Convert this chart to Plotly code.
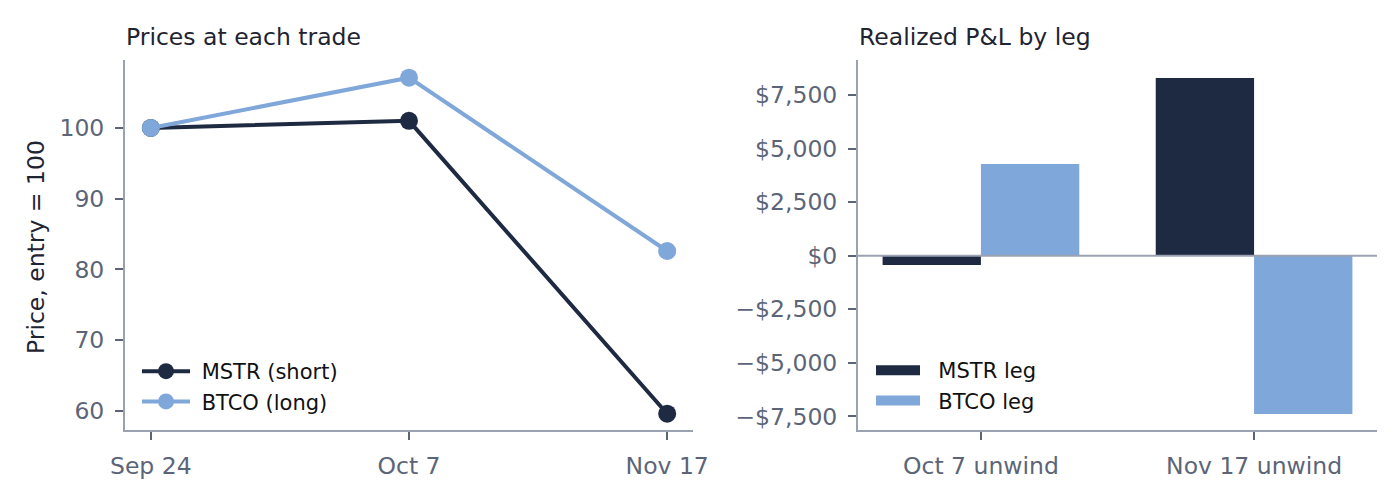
import plotly.graph_objects as go

# 数据
dates = ["Sep 24", "Oct 7", "Nov 17"]
mstr_price = [100, 101.0, 59.6]
btco_price = [100, 107.1, 82.6]

legs = ["Oct 7 unwind", "Nov 17 unwind"]
mstr_pnl = [-430, 8290]
btco_pnl = [4280, -7390]

pnl_ticks = [-7500, -5000, -2500, 0, 2500, 5000, 7500]
pnl_labels = ["\u2212$7,500", "\u2212$5,000", "\u2212$2,500", "$0", "$2,500", "$5,000", "$7,500"]

NAVY = "#1e2a42"
LIGHT = "#80a7d9"
AXIS = "#9aa2b2"
TICK = "#5c6577"
TEXT = "#1f2432"
FONT = "DejaVu Sans"
NB = "\u00a0"  # 图例文字前的间隔

# 页面有 8px 边距，按页面像素换算到图内比例
W, H, OFF = 1384, 484, 8


def px_x(p):
    return (p - OFF) / W


def px_y(p):
    return 1 - (p - OFF) / H


fig = go.Figure()

# 左图：价格
fig.add_trace(go.Scatter(
    x=dates, y=mstr_price, name=NB + "MSTR (short)", mode="lines+markers",
    line=dict(color=NAVY, width=4), marker=dict(size=18, color=NAVY),
    xaxis="x", yaxis="y", legend="legend",
))
fig.add_trace(go.Scatter(
    x=dates, y=btco_price, name=NB + "BTCO (long)", mode="lines+markers",
    line=dict(color=LIGHT, width=4), marker=dict(size=18, color=LIGHT),
    xaxis="x", yaxis="y", legend="legend",
))

# 右图：盈亏
fig.add_trace(go.Bar(
    x=legs, y=mstr_pnl, name="MSTR leg", marker=dict(color=NAVY, line=dict(width=0)),
    xaxis="x2", yaxis="y2", showlegend=False,
))
fig.add_trace(go.Bar(
    x=legs, y=btco_pnl, name="BTCO leg", marker=dict(color=LIGHT, line=dict(width=0)),
    xaxis="x2", yaxis="y2", showlegend=False,
))
# 图例用粗线模拟矩形色块
for name, color in [("MSTR leg", NAVY), ("BTCO leg", LIGHT)]:
    fig.add_trace(go.Scatter(
        x=[None], y=[None], name=NB * 2 + name, mode="lines",
        line=dict(color=color, width=15),
        xaxis="x2", yaxis="y2", legend="legend2",
    ))

axis_common = dict(
    showline=True, linecolor=AXIS, linewidth=2, showgrid=False, zeroline=False,
    ticks="outside", tickcolor=TICK, ticklen=8, tickwidth=2,
    ticklabelstandoff=6, automargin=False,
    tickfont=dict(family=FONT, size=23.5, color=TICK),
)

legend_common = dict(
    xanchor="left", yanchor="top", bgcolor="rgba(0,0,0,0)",
    font=dict(family=FONT, size=21, color="#111"), tracegroupgap=0,
)

fig.update_layout(
    width=W, height=H,
    margin=dict(l=0, r=0, t=0, b=0, autoexpand=False),
    paper_bgcolor="white", plot_bgcolor="white",
    font=dict(family=FONT, color=TEXT),
    barmode="group", bargap=0.28, bargroupgap=0,
    showlegend=True,
    xaxis=dict(domain=[px_x(125), px_x(693)], range=[-0.1, 2.1], anchor="y", **axis_common),
    yaxis=dict(domain=[px_y(430), px_y(60)], range=[57.3, 109.6], anchor="x",
               tickvals=[60, 70, 80, 90, 100], **axis_common),
    xaxis2=dict(domain=[px_x(858), px_x(1377)], range=[-0.45, 1.45], anchor="y2", **axis_common),
    yaxis2=dict(domain=[px_y(430), px_y(60)], range=[-8135, 9133], anchor="x2",
                tickvals=pnl_ticks, ticktext=pnl_labels, **axis_common),
    legend=dict(x=px_x(137), y=px_y(351), itemwidth=48, **legend_common),
    legend2=dict(x=px_x(871), y=px_y(350), itemwidth=44, **legend_common),
    annotations=[
        dict(text="Prices at each trade", x=px_x(124), y=px_y(37), xref="paper", yref="paper",
             xanchor="left", yanchor="middle", showarrow=False, font=dict(family=FONT, size=23.5, color=TEXT)),
        dict(text="Realized P&L by leg", x=px_x(857), y=px_y(37), xref="paper", yref="paper",
             xanchor="left", yanchor="middle", showarrow=False, font=dict(family=FONT, size=23.5, color=TEXT)),
        dict(text="Price, entry = 100", x=px_x(36), y=px_y(247), xref="paper", yref="paper",
             xanchor="center", yanchor="middle", textangle=-90, showarrow=False,
             font=dict(family=FONT, size=23.5, color=TEXT)),
    ],
    shapes=[
        dict(type="line", xref="x2 domain", yref="y2", x0=0, x1=1, y0=0, y1=0,
             line=dict(color=AXIS, width=2)),
    ],
)

fig.write_html("out.html")
